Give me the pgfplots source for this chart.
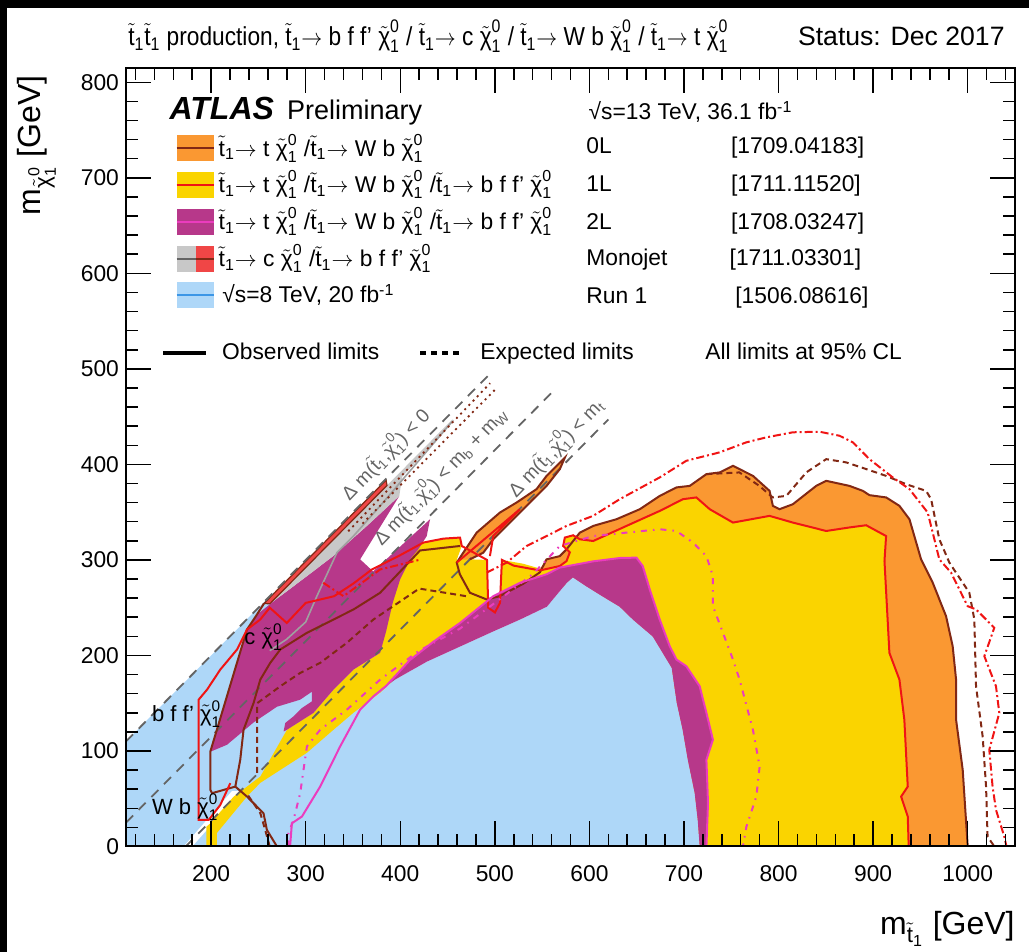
\documentclass[border=0pt]{standalone}
\usepackage{fontspec}
\setmainfont{Liberation Sans}
\usepackage{amsmath}
\usepackage{graphicx}
\usepackage{pgfplots}
\pgfplotsset{compat=1.18}

\definecolor{cblue}{RGB}{174,215,248}
\definecolor{corange}{RGB}{250,152,50}
\definecolor{cyellow}{RGB}{250,212,0}
\definecolor{cpurple}{RGB}{183,56,138}
\definecolor{cgrey}{RGB}{200,200,200}
\definecolor{cred}{RGB}{240,70,70}
\definecolor{lbrown}{RGB}{130,40,20}
\definecolor{lred}{RGB}{240,20,20}
\definecolor{lmag}{RGB}{235,60,190}
\definecolor{lblue}{RGB}{60,150,230}
\definecolor{lgrey}{RGB}{100,100,100}

\newcommand\fs[1]{\fontsize{#1}{#1}\selectfont}
\newcommand\Stop{\ensuremath{\tilde{\text{t}}_{\text{1}}}}
\newcommand\Neut{\ensuremath{\tilde{\text{χ}}^{\text{0}}_{\text{1}}}}
\newcommand\Arr{\ensuremath{\rightarrow}}

\begin{document}
\begin{tikzpicture}
\begin{axis}[
  at={(63pt,52.75pt)}, anchor=south west,
  scale only axis, width=444.5pt, height=389.25pt,
  xmin=110, xmax=1050, ymin=0, ymax=815,
  xtick={200,300,...,1000}, ytick={0,100,...,800},
  minor xtick={120,140,...,1040}, minor ytick={20,40,...,800},
  tick align=inside, xtick pos=both, ytick pos=both,
  major tick length=12.5pt, minor tick length=6pt,
  every tick/.style={black, line width=0.75pt},
  axis line style={line width=1pt},
  tick label style={font=\fs{11.4}},
  xticklabel style={yshift=-6pt},
  /pgf/number format/assume math mode=true,
  /pgf/number format/1000 sep={},
  axis on top, clip=true,
]
% 0L (orange)
\addplot[fill=corange, draw=none] coordinates {
(1000,0) (994.7,80.3) (987.7,132.8) (987.7,174.7) (984.1,209.7) (977.1,241.1)
(963,276.2) (950.7,300.6) (938.4,342.6) (927.8,356.6) (913.8,365.4) (896.1,367.8)
(889.1,372.3) (875,377.5) (850.4,382.8) (839.8,377.5) (815.1,358.3) (801,353.1)
(794,356.6) (790.5,372.3) (772.9,388) (751.8,398.5) (737.7,391.6) (723.7,389.8)
(706.1,377.5) (692,375.9) (674.4,367) (653.3,353.1) (628.6,342.6) (604,335.6)
(589.9,328.6) (575.8,311.1) (568.7,304) (554.7,300.6) (547.6,290) (560,280)
(620,240) (700,0)} --cycle;
\addplot[fill=corange, draw=none] coordinates {
(459.7,297.2) (480.8,328.6) (505.4,349.6) (523,360.1) (544.1,374.1) (554.7,388)
(565.3,398.5) (574,407) (568.7,395) (554.7,377.5) (540.6,363.6) (526.5,349.6)
(512.5,335.6) (498.3,321.6) (487.8,307.6) (473.7,300.6)} --cycle;
% Run 1 (blue)
\addplot[fill=cblue, draw=none] coordinates {
(110,0) (110,110) (266,266) (295,240) (380,240) (395,175) (428.3,193.6)
(463.2,209.3) (498,225) (526.5,237.5) (555,251) (576,276) (582.5,281.7)
(597.3,272) (614.2,261.6) (632,251) (645.9,237.6) (667,219.8) (687,187)
(692.3,150.6) (698.6,122) (704,91) (711.3,56) (714.5,28) (716.6,0)} --cycle;
\addplot[fill=white, draw=none] coordinates {(171,0) (180,0) (232,58) (222,58)} --cycle;
% 1L (yellow)
\addplot[fill=cyellow, draw=none] coordinates {
(195.1,0) (206.2,0) (206.2,14.2) (237.9,52.3) (252,66.6) (301.3,98.1) (329.4,122.2)
(350.5,140) (378.7,161) (395,176) (410,191) (434.6,205) (463.2,221) (498,243)
(526.5,257) (555,268) (570,280) (582.5,288) (597.3,285) (614.2,280) (632,276)
(645.9,268) (660,250) (670,232) (686,198) (695,188) (706,150) (715,110) (716,70)
(720,20) (720,0) (937.6,0) (936.6,31.3) (929.6,52.3) (936.6,62.7) (933,132.7)
(927.8,174.7) (917.2,202.7) (912,298.8) (913.7,325) (892.6,336.3) (875,334)
(850.4,330.3) (815.1,339.1) (790.5,346.1) (751.8,339.1) (727.2,353.1) (713.1,365.4)
(699,363.6) (674.4,351.3) (639.2,335.6) (604,319.8) (589.9,321.6) (582.8,325.8)
(574,323.4) (572.2,314.6) (579.3,308) (575.8,298.8) (568.7,293.6) (554.7,289)
(530,296) (507.5,300) (491.7,300) (473.7,300.6) (459.7,300) (465,314.6)
(463.2,323.4) (445.6,322.3) (424.5,318.2) (400,290) (372,287) (378,250) (376,215)
(378.7,202.7) (350.5,185.2) (329.4,164.2) (308.2,139.8) (280.2,122.2) (252,73.2)
(223.8,52.2) (199.2,24.3) (195.1,20.8)} --cycle;
\addplot[fill=white, draw=none] coordinates {(491.7,301) (507.5,301) (505.4,255) (500.1,245) (493,250)} --cycle;
% 2L (purple)
\addplot[fill=cpurple, draw=none] coordinates {
(199.2,99.2) (237.9,227.1) (248.5,242.9) (273.1,262) (301.3,283) (329,304)
(364.6,335.5) (399,367) (357.6,300.6) (371.3,288) (431.5,342.6) (428,325)
(419.1,311.1) (410.4,300.6) (400,280) (392,255) (385,225) (378.7,202.7)
(350.5,185.2) (329.4,164.2) (308.2,139.8) (280.2,122.2) (276.6,120.4)
(278.4,129.3) (287.1,136.2) (296,145) (306.5,151.9) (306.5,162) (294.2,153.7)
(269.6,146.3) (244.6,129.6) (216.8,106.5)} --cycle;
\addplot[fill=cpurple, draw=none] coordinates {
(385,168) (410,195) (434.6,214) (463.2,234) (498.3,262) (526.5,276) (554.7,285)
(568.7,292) (603.9,298.5) (632.1,302) (649.7,302.4) (656.4,293.6) (663.8,269.1)
(674.3,237.7) (684.9,209.7) (692,195.7) (702.5,188.7) (716.6,167.7) (723.7,139.8)
(730.6,111.8) (723.7,90.8) (725.4,45.6) (723.7,0) (716.6,0) (714.5,28) (711.3,56)
(704,91) (698.6,122) (692.3,150.6) (687,187) (667,219.8) (645.9,237.6) (632,251)
(614.2,261.6) (597.3,272) (582.5,281.7) (576,276) (555,251) (526.5,237.5)
(498,225) (463.2,209.3) (428.3,193.6) (395,175)} --cycle;
% monojet
\addplot[fill=cgrey, draw=none] coordinates {
(262,254) (400,392) (455,447) (457,446) (402,387) (399,367) (364.6,335.5)
(329,304) (301.3,283) (273.1,262)} --cycle;
\addplot[fill=cred, draw=lbrown, line width=0.6pt] coordinates {
(256,254.5) (385,383.5) (386,378) (262,254)} --cycle;
% kinematic limits
\addplot[lgrey, line width=0.9pt, dash pattern=on 5pt off 4pt] coordinates {(110,110) (497,497)};
\addplot[lgrey, line width=0.9pt, dash pattern=on 5pt off 4pt] coordinates {(110,25) (565,480)};
\addplot[lgrey, line width=0.9pt, dash pattern=on 5pt off 4pt] coordinates {(173,0) (620,447)};
% monojet grey line
\addplot[cgrey!80!black, line width=0.8pt] coordinates {
(262,205) (280,217) (300,235) (311.8,262) (333,307.6) (350.5,325) (378.7,356.5) (455,445)};
% 0L observed
\addplot[lbrown, line width=1pt] coordinates {
(1000,0) (994.7,80.3) (987.7,132.8) (987.7,174.7) (984.1,209.7) (977.1,241.1)
(963,276.2) (950.7,300.6) (938.4,342.6) (927.8,356.6) (913.8,365.4) (896.1,367.8)
(889.1,372.3) (875,377.5) (850.4,382.8) (839.8,377.5) (815.1,358.3) (801,353.1)
(794,356.6) (790.5,372.3) (772.9,388) (751.8,398.5) (737.7,391.6) (723.7,389.8)
(706.1,377.5) (692,375.9) (674.4,367) (653.3,353.1) (628.6,342.6) (604,335.6)
(589.9,328.6) (575.8,311.1) (568.7,304) (554.7,300.6) (547.6,287) (530,275)
(505,262) (491.4,258.6) (473.7,265.6) (463,285) (459.7,297.2) (480.8,328.6)
(505.4,349.6) (523,360.1) (544.1,374.1) (554.7,388) (565.3,398.5) (574,407)
(568.7,395) (554.7,377.5) (540.6,363.6) (526.5,349.6) (512.5,335.6) (498.3,321.6)
(487.8,307.6) (473.7,300.6)};
\addplot[lbrown, line width=1pt] coordinates {
(463.2,314.6) (420.9,309.9) (378.7,265.6) (350.5,248.1) (329.4,237.6) (301.3,223.7)
(273.1,206.2) (262.5,192.2) (252,174.7) (244.9,150.2) (234.3,122.2) (230.8,90.8)
(225.6,62.7) (237.9,52.3) (255.4,34.8) (259,17.3) (269.6,0)};
\addplot[lbrown, line width=1pt] coordinates {
(225.6,62.7) (201,55.8) (199.2,59.3) (199.2,99.5) (237.9,227.1) (248.5,242.9) (256,254.5)};
% 0L expected
\addplot[lbrown, line width=1pt, dash pattern=on 3pt off 2pt] coordinates {
(723.7,389.8) (758.6,391.6) (779.7,377.5) (793.8,365.4) (808.2,367) (829.3,391.6)
(850.4,405.5) (871.5,402.1) (892.6,395.1) (913.7,388) (934.8,379.3) (956,372.3)
(961.3,363.6) (970,321.6) (980.6,297.2) (1001.7,265.7) (1007,237.7) (1008.8,167.7)
(1015.8,115.2) (1019.4,62.7) (1021,10.3) (1028.2,0)};
\addplot[lbrown, line width=1pt, dash pattern=on 3pt off 2pt] coordinates {
(248.7,77) (248.7,150) (273.1,167.7) (294.2,181.7) (315.3,192.2) (343.5,213.2) (371.6,237.6) (420,270) (470,262)};
\addplot[lbrown, line width=1pt, dash pattern=on 3pt off 2pt] coordinates {
(262,0) (257,18) (252,35) (238,55)};
\addplot[lbrown, line width=0.9pt, dash pattern=on 1pt off 2pt] coordinates {(345,330) (495,485)};
\addplot[lbrown, line width=0.9pt, dash pattern=on 1pt off 2pt] coordinates {(360,338) (500,478)};
% 1L observed
\addplot[lred, line width=1pt] coordinates {
(937.6,0) (936.6,31.3) (929.6,52.3) (936.6,62.7) (933,132.7) (927.8,174.7)
(917.2,202.7) (912,298.8) (913.7,325) (892.6,336.3) (875,334) (850.4,330.3)
(815.1,339.1) (790.5,346.1) (751.8,339.1) (727.2,353.1) (713.1,365.4) (699,363.6)
(674.4,351.3) (639.2,335.6) (604,319.8) (589.9,321.6) (582.8,325.8) (574,323.4)
(572.2,314.6) (579.3,308) (575.8,298.8) (568.7,293.6) (547.6,289) (520,294)
(507.5,300) (505.4,255) (500.1,245) (493,250) (491.7,300) (465,314.6)
(463.2,323.4) (445.6,322.3) (424.5,318.2) (400,305) (370,290) (350,275)
(330,262) (300,255) (280,234) (262,250) (251.9,237.6) (237.9,227.1) (227.4,206.2)
(209.7,185.2) (195.7,164.2) (186.8,153.7) (186.8,27.8) (197.4,27.8) (209.7,43.5)
(220.3,66.3)};
\addplot[lred, line width=1pt] coordinates {
(459.7,297.2) (526.5,353.1) (498.3,325) (494.8,304)};
% 1L expected
\addplot[lred, line width=1pt, dash pattern=on 4pt off 1.5pt on 1pt off 1.5pt] coordinates {
(491.4,286.7) (512.5,297.2) (533.6,314.6) (554.7,325) (575.8,335.6) (603.9,346.1)
(632.1,363.6) (674.4,386.4) (702.5,403.8) (737.7,412.6) (765.9,423.1) (787,428.3)
(815.1,433.6) (843.3,434.2) (864.4,430) (878.5,423.1) (896.1,405.5) (920.7,386.4)
(938.4,374.1) (957.7,349.6) (970,300.6) (982.4,286.7) (999.9,251.6) (1008.8,248.2)
(1028.1,229) (1017.6,199.2) (1029.9,167.7) (1033.4,139.8) (1022.8,101.3)
(1026.3,62.7) (1029.9,38.3) (1038.7,10.3) (1041,0)};
\addplot[lred, line width=1pt, dash pattern=on 4pt off 1.5pt on 1pt off 1.5pt] coordinates {
(318.6,276.1) (340,262) (378.7,290) (420,300)};
% 2L observed
\addplot[lmag, line width=1pt] coordinates {
(283.5,0) (285.4,24.3) (296,31.3) (315.3,62.7) (336.4,104.7) (357.5,143.2)
(371.6,157.2) (385,168) (410,195) (434.6,214) (463.2,234) (498.3,262) (526.5,276)
(554.7,285) (568.7,292) (603.9,298.5) (632.1,302) (649.7,302.4) (656.4,293.6)
(663.8,269.1) (674.3,237.7) (684.9,209.7) (692,195.7) (702.5,188.7) (716.6,167.7)
(723.7,139.8) (730.6,111.8) (723.7,90.8) (725.4,45.6) (723.7,0)};
% 2L expected
\addplot[lmag, line width=1pt, dash pattern=on 3pt off 3pt on 0.8pt off 3pt] coordinates {
(282,0) (281.8,13.9) (287.1,27.8) (294.2,55.8) (297.7,80.3) (301.3,104.7)
(315.3,122.2) (343.5,143.2) (378.7,174.7) (420,205) (463,228) (500,255) (540,285)
(568.7,314.6) (603.9,325) (639.2,328.6) (674.4,332.1) (692,330.3) (709.5,318.2)
(723.7,304) (730.6,283.1) (730.6,251.6) (741.2,223.7) (751.8,195.7) (758.8,174.7)
(772.9,122.2) (780,83.7) (776.5,52.3) (766,20.8) (762.3,0)};
% labels
\node[rotate=46, text=lgrey, font=\fs{9.6}] at (axis cs:384,411) {Δ m(\Stop,\Neut) < 0};
\node[rotate=46, text=lgrey, font=\fs{9.6}] at (axis cs:442,388) {Δ m(\Stop,\Neut) < m\ensuremath{_{\text{b}}} + m\ensuremath{_{\text{W}}}};
\node[rotate=46, text=lgrey, font=\fs{9.6}] at (axis cs:564,418) {Δ m(\Stop,\Neut) < m\ensuremath{_{\text{t}}}};
\end{axis}

\begin{scope}[x=0.5pt,y=-0.5pt,shift={(0pt,476pt)}]
% screenshot frame
\fill[black] (0,0) rectangle (1029,8);
\fill[black] (0,0) rectangle (7,952);
% title
\node[anchor=base west, inner sep=0pt] at (128,46) {\resizebox{300pt}{\height}{\fs{13}\Stop\Stop\ production, \Stop\Arr\ b f f' \Neut\ / \Stop\Arr\ c \Neut\ / \Stop\Arr\ W b \Neut\ / \Stop\Arr\ t \Neut}};
\node[anchor=base east, inner sep=0pt, font=\fs{13.3}] at (1005,46) {Status: Dec 2017};
% axis titles
\node[anchor=base east, inner sep=0pt, font=\fs{16}] at (1015,935) {m\ensuremath{_{\tilde{\text{t}}_{\text{1}}}} [GeV]};
\node[anchor=base east, inner sep=0pt, font=\fs{16}, rotate=90] at (40,75) {m\ensuremath{_{\tilde{\text{χ}}^{\text{0}}_{\text{1}}}} [GeV]};
% ATLAS label
\node[anchor=base west, inner sep=0pt, font=\fs{16}\bfseries\itshape] at (169.3,120) {ATLAS};
\node[anchor=base west, inner sep=0pt, font=\fs{13.5}] at (286.7,120) {Preliminary};
\node[anchor=base west, inner sep=0pt, font=\fs{11.4}] at (588.3,120) {√s=13 TeV, 36.1 fb\textsuperscript{-1}};
% legend swatches
\fill[corange] (176.7,135.3) rectangle (214.3,161.3);
\draw[lbrown, line width=1pt] (176.7,148.3) -- (214.3,148.3);
\fill[cyellow] (176.7,172) rectangle (214.3,198);
\draw[lred, line width=1pt] (176.7,185) -- (214.3,185);
\fill[cpurple] (176.7,208.7) rectangle (214.3,234.7);
\draw[lmag, line width=1pt] (176.7,221.7) -- (214.3,221.7);
\fill[cgrey] (176.7,246) rectangle (195.5,272);
\fill[cred] (195.5,246) rectangle (214.3,272);
\draw[lgrey, line width=1pt] (176.7,259) -- (195.5,259);
\draw[lbrown, line width=1pt] (195.5,259) -- (214.3,259);
\fill[cblue] (176.7,282) rectangle (214.3,308);
\draw[lblue, line width=1pt] (176.7,295) -- (214.3,295);
% legend text
\begin{scope}[every node/.style={anchor=base west, inner sep=0pt, font=\fs{11.4}}]
\node at (218.3,156.3) {\Stop\Arr\ t \Neut\ /\Stop\Arr\ W b \Neut};
\node at (218.3,193) {\Stop\Arr\ t \Neut\ /\Stop\Arr\ W b \Neut\ /\Stop\Arr\ b f f' \Neut};
\node at (218.3,229.7) {\Stop\Arr\ t \Neut\ /\Stop\Arr\ W b \Neut\ /\Stop\Arr\ b f f' \Neut};
\node at (218.3,267) {\Stop\Arr\ c \Neut\ /\Stop\Arr\ b f f' \Neut};
\node at (222,303) {√s=8 TeV, 20 fb\textsuperscript{-1}};
\node at (586,153.5) {0L};
\node at (586,191.5) {1L};
\node at (586,230) {2L};
\node at (586,265.5) {Monojet};
\node at (586,304) {Run 1};
\node at (730.7,153.5) {[1709.04183]};
\node at (730.7,191.5) {[1711.11520]};
\node at (730.7,230) {[1708.03247]};
\node at (729.3,265.5) {[1711.03301]};
\node at (735,304) {[1506.08616]};
\node at (221.7,360) {Observed limits};
\node at (480,360) {Expected limits};
\node at (705,360) {All limits at 95\% CL};
\node[font=\fs{11}] at (244,645) {c \Neut};
\node[font=\fs{11}] at (151.7,722) {b f f' \Neut};
\node[font=\fs{11}] at (151.7,815) {W b \Neut};
\end{scope}
\draw[black, line width=2pt] (163,353.3) -- (206,353.3);
\draw[black, line width=2pt, dash pattern=on 3pt off 2.5pt] (420,353.3) -- (460,353.3);
\end{scope}
\pgfresetboundingbox
\path[use as bounding box] (0,0) rectangle (514.5pt,476pt);
\end{tikzpicture}
\end{document}
